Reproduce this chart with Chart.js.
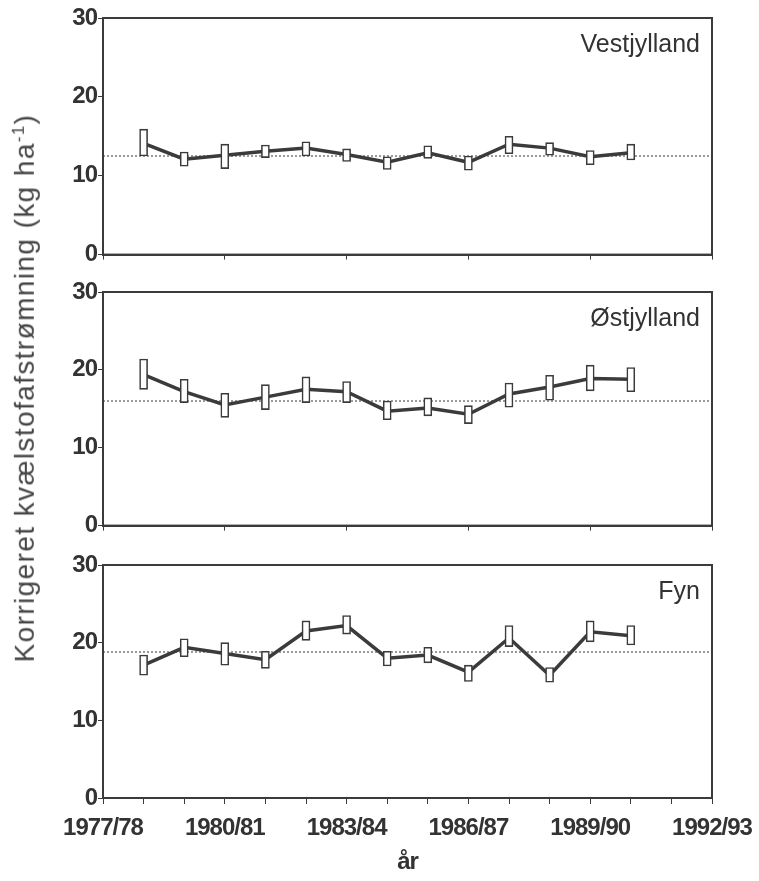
<!DOCTYPE html>
<html>
<head>
<meta charset="utf-8">
<script src="https://cdn.jsdelivr.net/npm/chart.js@4/dist/chart.umd.min.js"></script>
<style>
  html, body { margin: 0; padding: 0; background: #fff; }
  #wrap { position: relative; width: 759px; height: 881px; }
  .panel { position: absolute; left: 0; width: 759px; }
  #ytitle {
    position: absolute; left: 25px; top: 388px;
    transform: translate(-50%, -50%) rotate(-90deg);
    white-space: nowrap; font: 28px "Liberation Sans", Arial, sans-serif; color: #444;
    letter-spacing: 1.4px;
  }
  #ytitle sup { font-size: 17px; }
</style>
</head>
<body>
<div id="wrap">
  <div class="panel" style="top:0;height:270px"><canvas id="c1"></canvas></div>
  <div class="panel" style="top:275px;height:266px"><canvas id="c2"></canvas></div>
  <div class="panel" style="top:548px;height:333px"><canvas id="c3"></canvas></div>
  <div id="ytitle">Korrigeret kvælstofafstrømning (kg ha<sup>-1</sup>)</div>
</div>
<script>
// years: 1978 = 1978/79 ... 1990 = 1990/91
const years = [1978, 1979, 1980, 1981, 1982, 1983, 1984, 1985, 1986, 1987, 1988, 1989, 1990];
const tickLabels = ['1977/78', '1980/81', '1983/84', '1986/87', '1989/90', '1992/93'];

const vestValues = [14.1, 12.1, 12.6, 13.1, 13.5, 12.7, 11.7, 12.9, 11.7, 14.0, 13.5, 12.4, 12.9];
const vestLow    = [12.5, 11.2, 10.9, 12.3, 12.5, 11.8, 10.8, 12.2, 10.7, 12.8, 12.6, 11.4, 12.0];
const vestHigh   = [15.9, 13.0, 14.0, 13.9, 14.3, 13.4, 12.4, 13.8, 12.5, 15.0, 14.2, 13.2, 14.0];
const vestMean = 12.5;

const oestValues = [19.4, 17.2, 15.5, 16.5, 17.5, 17.2, 14.7, 15.1, 14.3, 16.9, 17.8, 18.9, 18.8];
const oestLow    = [17.5, 15.8, 13.9, 14.9, 15.8, 15.8, 13.6, 14.1, 13.1, 15.2, 16.1, 17.3, 17.2];
const oestHigh   = [21.4, 18.8, 17.0, 18.1, 19.1, 18.5, 16.0, 16.4, 15.4, 18.3, 19.3, 20.6, 20.3];
const oestMean = 16.0;

const fynValues = [17.1, 19.4, 18.6, 17.8, 21.5, 22.2, 18.0, 18.4, 16.2, 20.6, 15.8, 21.4, 20.9];
const fynLow    = [15.8, 18.2, 17.1, 16.7, 20.3, 21.1, 17.0, 17.4, 15.0, 19.5, 14.9, 20.1, 19.7];
const fynHigh   = [18.4, 20.5, 20.0, 18.9, 22.8, 23.5, 18.9, 19.4, 17.1, 22.2, 16.8, 22.8, 22.2];
const fynMean = 18.8;

const ink = '#3b3b3b';
const tickFont = { family: '"Liberation Sans", Arial, sans-serif', size: 24, weight: 'bold' };

// tighter letters for the bold tick numbers, box around the plot area, region name
const framePlugin = {
  id: 'frame',
  beforeDraw(chart) {
    chart.ctx.letterSpacing = '-1px';
  },
  afterDraw(chart, args, opts) {
    const { ctx, chartArea: a } = chart;
    ctx.save();
    ctx.letterSpacing = '0px';
    ctx.strokeStyle = ink;
    ctx.lineWidth = 2;
    ctx.strokeRect(a.left, a.top, a.right - a.left, a.bottom - a.top);
    ctx.fillStyle = '#333';
    ctx.font = '25px "Liberation Sans", Arial, sans-serif';
    ctx.textAlign = 'right';
    ctx.textBaseline = 'top';
    ctx.fillText(opts.name, a.right - 12, a.top + 15);
    ctx.restore();
  }
};

function makePanel(id, name, values, low, high, mean, bottom) {
  const xHeight = bottom ? 83 : 13;
  new Chart(document.getElementById(id), {
    data: {
      datasets: [
        {
          type: 'bar',
          data: years.map((y, i) => ({ x: y, y: [low[i], high[i]] })),
          backgroundColor: '#fff',
          borderColor: ink,
          borderWidth: 1.6,
          borderSkipped: false,
          barThickness: 8,
          order: 0
        },
        {
          type: 'line',
          data: years.map((y, i) => ({ x: y, y: values[i] })),
          borderColor: ink,
          borderWidth: 3.5,
          pointRadius: 0,
          tension: 0,
          order: 1
        },
        {
          type: 'line',
          data: [{ x: 1977, y: mean }, { x: 1992, y: mean }],
          borderColor: '#9a9a9a',
          borderWidth: 2,
          borderDash: [2, 2],
          pointRadius: 0,
          order: 2
        }
      ]
    },
    options: {
      responsive: true,
      maintainAspectRatio: false,
      animation: false,
      layout: { padding: { left: 0, right: 47, top: 17 + (id === 'c1' ? 1 : 0), bottom: 0 } },
      plugins: { legend: { display: false }, tooltip: { enabled: false }, frame: { name } },
      scales: {
        x: {
          type: 'linear',
          min: 1977,
          max: 1992,
          offset: false,
          border: { color: ink, width: 2 },
          grid: {
            offset: false,
            drawOnChartArea: false,
            tickLength: bottom ? 6 : 5,
            color: ctx => (bottom || (ctx.tick && (ctx.tick.value - 1977) % 3 === 0)) ? ink : 'rgba(0,0,0,0)'
          },
          ticks: {
            stepSize: 1,
            autoSkip: false,
            maxRotation: 0,
            display: bottom,
            color: '#333',
            font: tickFont,
            padding: 10,
            callback: v => (v - 1977) % 3 === 0 ? tickLabels[(v - 1977) / 3] : ''
          },
          title: {
            display: bottom,
            text: 'år',
            color: '#333',
            font: tickFont,
            padding: { top: 2 }
          },
          afterFit: s => { s.height = xHeight; s.paddingLeft = 0; s.paddingRight = 0; }
        },
        y: {
          min: 0,
          max: 30,
          border: { color: ink, width: 2 },
          grid: { drawOnChartArea: false, tickLength: 5, color: ink },
          ticks: { stepSize: 10, color: '#333', font: tickFont, padding: 1 },
          afterFit: s => { s.width = 103; }
        }
      }
    },
    plugins: [framePlugin]
  });
}

makePanel('c1', 'Vestjylland', vestValues, vestLow, vestHigh, vestMean, false);
makePanel('c2', 'Østjylland', oestValues, oestLow, oestHigh, oestMean, false);
makePanel('c3', 'Fyn', fynValues, fynLow, fynHigh, fynMean, true);
</script>
</body>
</html>
